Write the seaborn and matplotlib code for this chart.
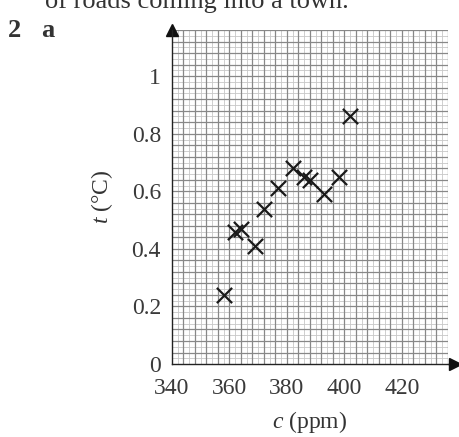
import numpy as np
import pandas as pd
import matplotlib
matplotlib.use("Agg")
import matplotlib.pyplot as plt
import seaborn as sns

# values
co2_ppm = [358, 362, 364, 369, 372, 377, 382, 386, 388, 393, 398, 402]
temp_c = [0.24, 0.46, 0.47, 0.41, 0.54, 0.61, 0.68, 0.65, 0.64, 0.59, 0.65, 0.86]
x_ticks = [340, 360, 380, 400, 420]
y_ticks = [0, 0.2, 0.4, 0.6, 0.8, 1]
y_tick_labels = ["0", "0.2", "0.4", "0.6", "0.8", "1"]

df = pd.DataFrame({"c": co2_ppm, "t": temp_c})

sns.set_theme(style="white")
plt.rcParams["font.family"] = ["Liberation Serif", "DejaVu Serif"]
plt.rcParams["mathtext.fontset"] = "custom"
plt.rcParams["mathtext.it"] = "Liberation Serif:italic"
plt.rcParams["mathtext.rm"] = "Liberation Serif"

fig = plt.figure(figsize=(4.59, 4.37), dpi=100)
ax = fig.add_axes([0.3747, 0.167, 0.601, 0.764])

# graph-paper grid: faint fine lines, stronger lines every 4 ppm / 0.04 C
for v in np.arange(342, 437, 2):
    ax.axvline(v, color="#c8c8c8", lw=0.6, zorder=0)
for v in np.arange(0.02, 1.17, 0.02):
    ax.axhline(v, color="#c8c8c8", lw=0.6, zorder=0)
for v in np.arange(344, 437, 4):
    ax.axvline(v, color="#888888", lw=0.9, zorder=1)
for v in np.arange(0.04, 1.17, 0.04):
    ax.axhline(v, color="#888888", lw=0.9, zorder=1)

sns.scatterplot(data=df, x="c", y="t", marker="x", s=120, color="#1a1a1a",
                linewidth=1.6, ax=ax, zorder=3)

ax.set_xticks(x_ticks)
ax.set_yticks(y_ticks)
ax.set_yticklabels(y_tick_labels)
ax.set_xlim(340, 436)
ax.set_ylim(0, 1.16)

for side in ["top", "right"]:
    ax.spines[side].set_visible(False)
for side in ["left", "bottom"]:
    ax.spines[side].set_color("#222222")
    ax.spines[side].set_linewidth(1.0)

ax.tick_params(axis="both", which="major", labelsize=17, colors="#3a3a3a",
               length=6, width=1.0, direction="out")
ax.tick_params(axis="x", pad=4)
ax.tick_params(axis="y", pad=2)

# axis arrows
ax.plot([1.0, 1.025], [0, 0], color="#222222", lw=1.0,
        transform=ax.transAxes, clip_on=False)
ax.plot(1.025, 0, marker=">", ms=9, color="#111111",
        transform=ax.transAxes, clip_on=False)
ax.plot(0, 1.0, marker="^", ms=9, color="#111111",
        transform=ax.transAxes, clip_on=False)

ax.set_xlabel("$c$ (ppm)", fontsize=17, color="#333333", labelpad=7)
ax.set_ylabel("$t$ (°C)", fontsize=17, color="#333333", labelpad=12)

# page text around the figure
fig.text(0.018, 0.93, "2", fontsize=19, fontweight="bold", color="#333333",
         va="center")
fig.text(0.09, 0.93, "a", fontsize=19, fontweight="bold", color="#333333",
         va="center")
fig.text(0.098, 0.982, "of roads coming into a town.", fontsize=19,
         color="#333333", va="baseline")

fig.savefig("out.png", dpi=100)
